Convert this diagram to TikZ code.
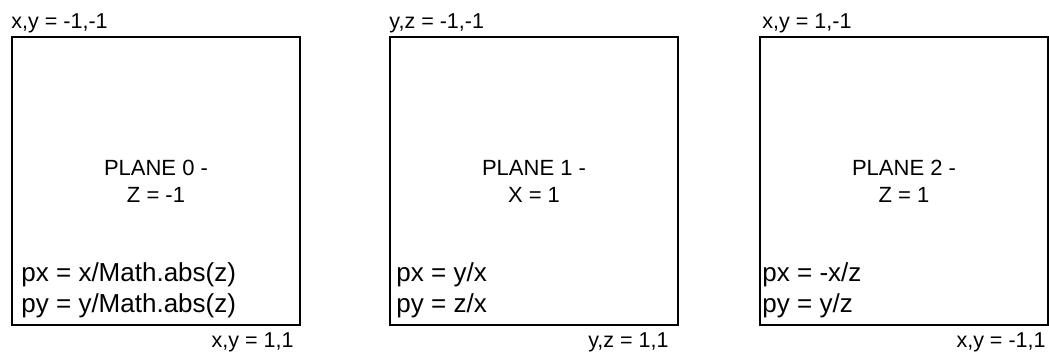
\documentclass[tikz,border=0pt]{standalone}
\usepackage{fontspec}
\setmainfont{Liberation Sans}
\usetikzlibrary{positioning}
\begin{document}
\begin{tikzpicture}[x=1pt,y=-1pt,every node/.style={inner sep=0pt}]
\tikzstyle{plane}=[draw,line width=1.5pt,minimum width=288pt,minimum height=288pt,align=center,font=\fontsize{22}{27}\selectfont]
\tikzstyle{corner}=[font=\fontsize{21.5}{26}\selectfont]
\tikzstyle{proj}=[align=left,font=\fontsize{26}{31}\selectfont]
\useasboundingbox (0,0) rectangle (1049,356);

\node[plane](p0) at (156,181){PLANE 0 -\\Z = -1};
\node[plane](p1) at (534,181){PLANE 1 -\\X = 1};
\node[plane](p2) at (904,181){PLANE 2 -\\Z = 1};

\node[corner,anchor=base west](tl0) at ([yshift=8pt]p0.north west){x,y = -1,-1};
\node[corner,anchor=base west](tl1) at ([yshift=8pt]p1.north west){y,z = -1,-1};
\node[corner,anchor=base west](tl2) at ([xshift=3pt,yshift=8pt]p2.north west){x,y = 1,-1};

\node[corner,anchor=base east](br0) at ([xshift=-7pt,yshift=-22pt]p0.south east){x,y = 1,1};
\node[corner,anchor=base east](br1) at ([xshift=-10pt,yshift=-22pt]p1.south east){y,z = 1,1};
\node[corner,anchor=base east](br2) at ([xshift=-3pt,yshift=-22pt]p2.south east){x,y = -1,1};

\node[proj,anchor=south west](f0) at ([xshift=10pt,yshift=8pt]p0.south west){px = x/Math.abs(z)\\py = y/Math.abs(z)};
\node[proj,anchor=south west](f1) at ([xshift=7pt,yshift=8pt]p1.south west){px = y/x\\py = z/x};
\node[proj,anchor=south west](f2) at ([xshift=3pt,yshift=8pt]p2.south west){px = -x/z\\py = y/z};
\end{tikzpicture}
\end{document}
